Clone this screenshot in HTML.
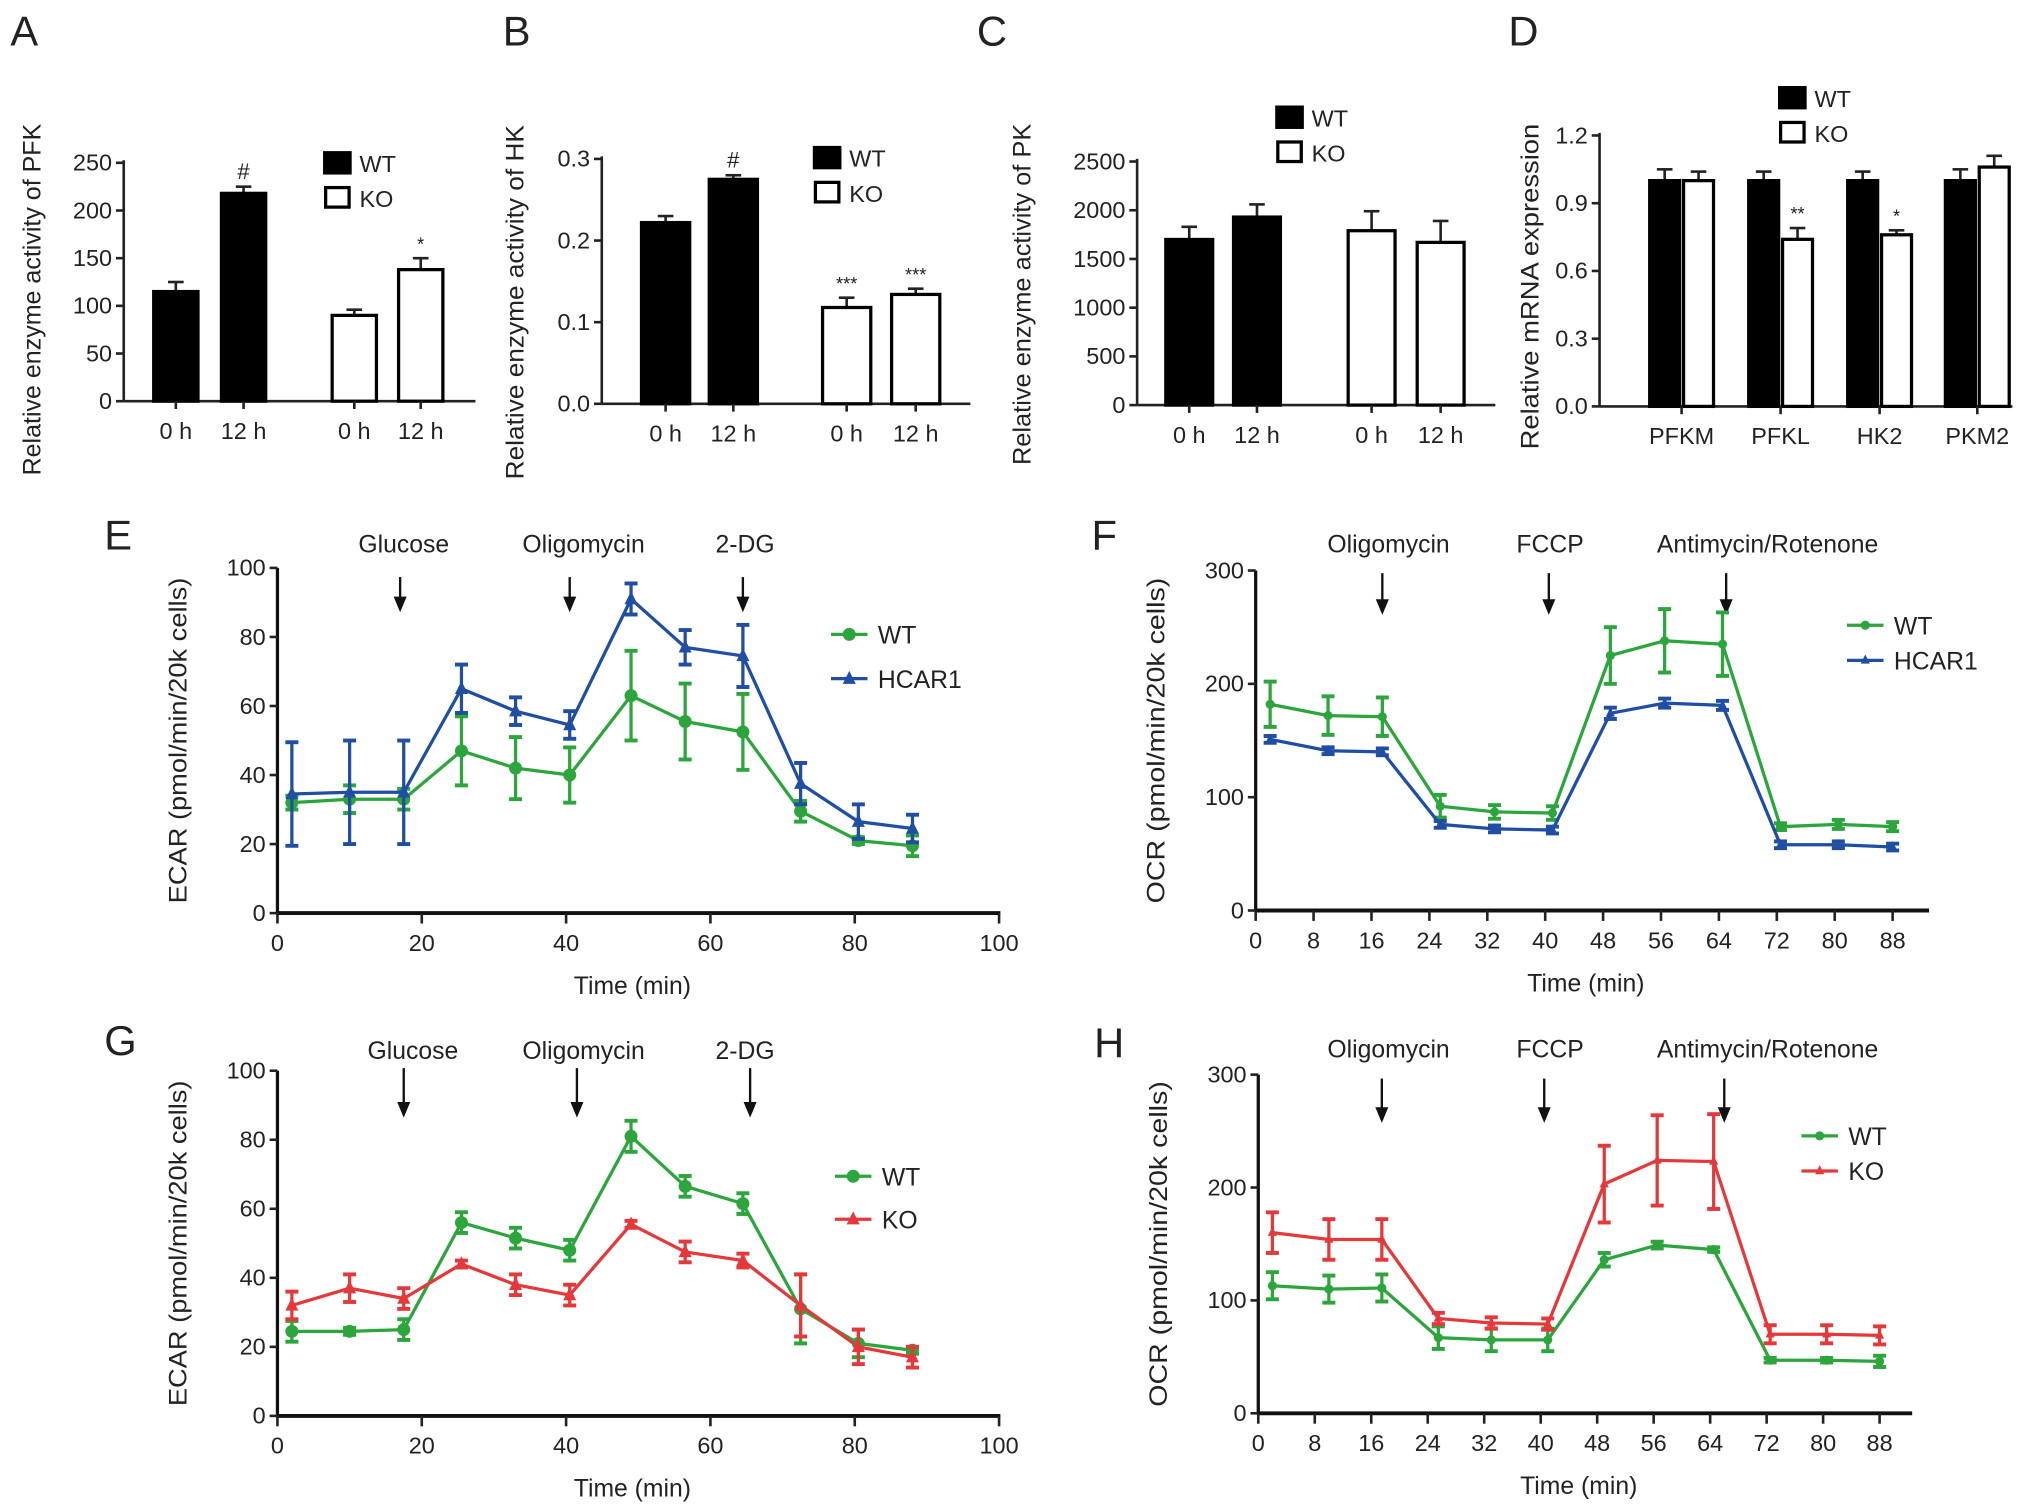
<!DOCTYPE html>
<html><head><meta charset="utf-8"><style>
html,body{margin:0;padding:0;background:#fff;}
svg{display:block;font-family:"Liberation Sans",Arial,sans-serif;}
</style></head><body>
<svg id="fig" width="2032" height="1505" viewBox="0 0 1560 1155.4" xmlns="http://www.w3.org/2000/svg"></svg>
<script>
// ---------- data ----------
const barGroupsAB = ["0 h","12 h","0 h","12 h"];
const pfkVals = [115,218,90,138];
const pfkErr = [10,7,6,12];
const hkVals = [0.222,0.275,0.118,0.134];
const hkErr = [0.008,0.005,0.012,0.007];
const pkVals = [1700,1930,1790,1670];
const pkErr = [130,130,200,220];
const genes = ["PFKM","PFKL","HK2","PKM2"];
const mrnaWT = [1.0,1.0,1.0,1.0];
const mrnaWTErr = [0.05,0.04,0.04,0.05];
const mrnaKO = [1.0,0.74,0.76,1.06];
const mrnaKOErr = [0.04,0.05,0.02,0.05];
const timesECAR = [2,10,17.5,25.5,33,40.5,49,56.5,64.5,72.5,80.5,88];
const eWT = [32,33,33,47,42,40,63,55.5,52.5,29.5,21,19.5];
const eWTErr = [2,4,3,10,9,8,13,11,11,3,1,3];
const eHC = [34.5,35,35,65,58.5,54.5,91,77,74.5,37.5,26.5,24.5];
const eHCErr = [15,15,15,7,4,4,4.5,5,9,6,5,4];
const timesOCR = [2,10,17.5,25.5,33,41,49,56.5,64.5,72.5,80.5,88];
const fWT = [182,172,171,92,87,86,225,238,235,74,76,74];
const fWTErr = [20,17,17,10,6,6,25,28,28,3,4,4];
const fHC = [151,141,140,76,72,71,174,183,181,58,58,56];
const fHCErr = [3,3,3,3,3,3,5,4,4,3,3,3];
const gWT = [24.5,24.5,25,56,51.5,48,81,66.5,61.5,31,21,19];
const gWTErr = [3,1,3,3,3,3,4.5,3,3,10,4,1];
const gKO = [32,37,34,44,38,35,55.5,47.5,45,32,20,17];
const gKOErr = [4,4,3,1,3,3,1,3,2,9,5,3];
const hWT = [113,110,111,67,65,65,136,149,145,47,47,46];
const hWTErr = [12,12,12,10,10,10,6,3,2,2,2,5];
const hKO = [160,154,154,84,80,79,203,224,223,70,70,69];
const hKOErr = [18,18,18,5,5,5,34,40,42,8,8,8];
const ecarTicks = [0,20,40,60,80,100];
const ocrTicks = [0,100,200,300];
const ocrXTicks = [0,8,16,24,32,40,48,56,64,72,80,88];

const GREEN="#2ca53c", BLUE="#1f4ea3", RED="#e5383b";
const svg=document.getElementById('fig');
const NS="http://www.w3.org/2000/svg";
function mk(tag,attrs,name,parent){
  const el=document.createElementNS(NS,tag);
  for(const k in attrs) el.setAttribute(k,attrs[k]);
  
  
  (parent||svg).appendChild(el);return el;
}
function txt(x,y,s,size,name,anchor,extra){
  const t=mk('text',Object.assign({x:x,y:y,'font-size':size,'text-anchor':anchor||'middle',fill:'#222'},extra||{}),name);
  t.textContent=s;return t;
}
function line(x1,y1,x2,y2,name,col,w){return mk('line',{x1,y1,x2,y2,stroke:col||'#222','stroke-width':w||2},name);}
function ylab(x,y,s,name,size,len){
  const ex={transform:`rotate(-90 ${x} ${y})`};
  if(len){ex.textLength=len;ex.lengthAdjust='spacingAndGlyphs';}
  txt(x,y,s,size||19,name,'middle',ex);
}

// ---------- bar panel ----------
function barPanel(o){
  const ys=v=>o.y0-(v-o.min)/(o.max-o.min)*(o.y0-o.yTop);
  line(o.ax,o.yTop-2,o.ax,o.y0,o.id+'-y-axis');
  line(o.ax,o.y0,o.axEnd,o.y0,o.id+'-x-axis');
  o.ticks.forEach((t,i)=>{const y=ys(t);line(o.ax-6,y,o.ax,y,o.id+'-y-tick');
    txt(o.ax-9,y+6,o.tickLabels[i],18,o.id+'-y-tick-label','end');});
  o.bars.forEach((b,i)=>{
    const y=ys(b.v), ye=ys(b.v+b.e);
    line(b.cx,ye,b.cx,y,o.id+'-error-bar');
    line(b.cx-6,ye,b.cx+6,ye,o.id+'-error-cap');
    mk('rect',{x:b.cx-o.bw/2,y:y,width:o.bw,height:o.y0-y,fill:b.fill?'#000':'#fff',stroke:'#000','stroke-width':2.5},o.id+'-bar-'+i);
    if(b.mark) txt(b.cx,ye-6,b.mark,b.mark=='#'?17:14,o.id+'-significance-mark');
  });
  o.xlabels.forEach(l=>{line(l.x,o.y0,l.x,o.y0+6,o.id+'-x-tick');txt(l.x,o.y0+29,l.s,18,o.id+'-x-tick-label');});
  mk('rect',{x:o.lx,y:o.ly,width:20,height:16,fill:'#000',stroke:'#000','stroke-width':2},o.id+'-legend-wt-swatch');
  txt(o.lx+27,o.ly+15,'WT',18,o.id+'-legend-wt-label','start');
  mk('rect',{x:o.lx+1,y:o.ly+27,width:18,height:15,fill:'#fff',stroke:'#000','stroke-width':2.5},o.id+'-legend-ko-swatch');
  txt(o.lx+27,o.ly+42,'KO',18,o.id+'-legend-ko-label','start');
  ylab(o.ylx,o.yly,o.ylabel,o.id+'-y-axis-title',19,o.ylen);
  txt(o.letX,o.letY,o.letter,32,o.id+'-panel-letter','start');
}
function fourBars(cxs,vals,errs,marks){return cxs.map((cx,i)=>({cx,v:vals[i],e:errs[i],fill:i<2,mark:marks[i]}));}
function fmt(list,d){return list.map(v=>v.toFixed(d));}

const aT=[0,50,100,150,200,250];
barPanel({id:'panel-a',ax:95,axEnd:365,y0:308,yTop:125,min:0,max:250,ticks:aT,tickLabels:fmt(aT,0),bw:34,
  bars:fourBars([135,187,272,323],pfkVals,pfkErr,['','#','','*']),
  xlabels:barGroupsAB.map((s,i)=>({x:[135,187,272,323][i],s})),lx:249,ly:117,
  ylabel:'Relative enzyme activity of PFK',ylx:31,yly:230,ylen:270,letter:'A',letX:8,letY:35});
const bT=[0,0.1,0.2,0.3];
const bX=[511,563,650,703];
barPanel({id:'panel-b',ax:462,axEnd:745,y0:310,yTop:122,min:0,max:0.3,ticks:bT,tickLabels:fmt(bT,1),bw:37,
  bars:fourBars(bX,hkVals,hkErr,['','#','***','***']),
  xlabels:barGroupsAB.map((s,i)=>({x:bX[i],s})),lx:625,ly:113,
  ylabel:'Relative enzyme activity of HK',ylx:402,yly:232,ylen:272,letter:'B',letX:386,letY:35});
const cT=[0,500,1000,1500,2000,2500];
barPanel({id:'panel-c',ax:873,axEnd:1148,y0:311,yTop:124,min:0,max:2500,ticks:cT,tickLabels:fmt(cT,0),bw:36,
  bars:fourBars([913,965,1053,1106],pkVals,pkErr,['','','','']),
  xlabels:barGroupsAB.map((s,i)=>({x:[913,965,1053,1106][i],s})),lx:980,ly:82,
  ylabel:'Relative enzyme activity  of PK',ylx:791,yly:226,ylen:262,letter:'C',letX:750,letY:35});
// panel D
(function(){
  const dT=[0,0.3,0.6,0.9,1.2];
  const centers=[1291,1367,1443,1518];
  const bars=[];
  genes.forEach((g,i)=>{bars.push({cx:centers[i]-13,v:mrnaWT[i],e:mrnaWTErr[i],fill:true,mark:''});
    bars.push({cx:centers[i]+13,v:mrnaKO[i],e:mrnaKOErr[i],fill:false,mark:['','**','*',''][i]});});
  barPanel({id:'panel-d',ax:1228,axEnd:1545,y0:312,yTop:104,min:0,max:1.2,ticks:dT,tickLabels:fmt(dT,1),bw:23,
    bars,xlabels:genes.map((s,i)=>({x:centers[i],s})),lx:1366,ly:67,
    ylabel:'Relative mRNA expression',ylx:1181,yly:220,ylen:250,letter:'D',letX:1158,letY:35});
})();

// ---------- line panel ----------
function linePanel(o){
  const xs=v=>o.x0+(v-o.xmin)/(o.xmax-o.xmin)*(o.x1-o.x0);
  const ys=v=>o.y0-(v-o.ymin)/(o.ymax-o.ymin)*(o.y0-o.yTop);
  line(o.x0,o.yTop,o.x0,o.y0+1,o.id+'-y-axis','#111',2.5);
  line(o.x0-1,o.y0,o.axEnd,o.y0,o.id+'-x-axis','#111',3);
  o.yticks.forEach(t=>{const y=ys(t);line(o.x0-6,y,o.x0,y,o.id+'-y-tick');txt(o.x0-9,y+6,String(t),18,o.id+'-y-tick-label','end');});
  o.xticks.forEach(t=>{const x=xs(t);line(x,o.y0,x,o.y0+8,o.id+'-x-tick');txt(x,o.y0+29,String(t),18,o.id+'-x-tick-label');});
  txt((o.x0+o.axEnd)/2-5,o.y0+62,'Time (min)',19,o.id+'-x-axis-title');
  ylab(o.x0-70,(o.y0+o.yTop)/2,o.ylabel,o.id+'-y-axis-title',19,250);
  txt(o.letX,o.letY,o.letter,32,o.id+'-panel-letter','start');
  o.arrows.forEach(a=>{const x=xs(a.t);
    line(x,o.arrY1,x,o.arrY2-10,o.id+'-arrow-shaft','#111',1.8);
    mk('path',{d:`M${x-5} ${o.arrY2-12}L${x+5} ${o.arrY2-12}L${x} ${o.arrY2}Z`,fill:'#111'},o.id+'-arrow-head');
    txt(a.lx!==undefined?a.lx:x,o.labY,a.s,19,o.id+'-injection-label');});
  o.series.forEach(s=>{
    const pts=o.times.map((t,i)=>xs(t)+','+ys(s.v[i])).join(' ');
    mk('polyline',{points:pts,fill:'none',stroke:s.col,'stroke-width':2.5},o.id+'-line-'+s.key);
    o.times.forEach((t,i)=>{const x=xs(t),y1=ys(s.v[i]-s.e[i]),y2=ys(s.v[i]+s.e[i]);
      line(x,y1,x,y2,o.id+'-error-bar-'+s.key,s.col,2.5);
      line(x-5,y1,x+5,y1,o.id+'-error-cap-'+s.key,s.col,3);
      line(x-5,y2,x+5,y2,o.id+'-error-cap-'+s.key,s.col,3);
      marker(x,ys(s.v[i]),s,o.id+'-point-'+s.key,o.msize);});
  });
  o.series.forEach((s,k)=>{const y=o.legY+k*o.legDy;
    line(o.legX,y,o.legX+28,y,o.id+'-legend-line-'+s.key,s.col,2.5);
    marker(o.legX+14,y,s,o.id+'-legend-marker-'+s.key,o.msize);
    txt(o.legX+36,y+7,s.label,19,o.id+'-legend-label-'+s.key,'start');});
}
function marker(x,y,s,name,sz){
  sz=sz||5;
  if(s.shape==='circle') mk('circle',{cx:x,cy:y,r:sz,fill:s.col},name);
  else mk('path',{d:`M${x} ${y-sz-1}L${x+sz} ${y+sz-1}L${x-sz} ${y+sz-1}Z`,fill:s.col},name);
}
linePanel({id:'panel-e',x0:213,x1:767,axEnd:768,xmin:0,xmax:100,y0:701,yTop:436,ymin:0,ymax:100,
  yticks:ecarTicks,xticks:ecarTicks,ylabel:'ECAR (pmol/min/20k cells)',letter:'E',letX:80,letY:422,
  arrows:[{t:17,s:'Glucose',lx:310},{t:40.5,s:'Oligomycin',lx:448},{t:64.5,s:'2-DG',lx:572}],arrY1:443,arrY2:470,labY:424,
  times:timesECAR,series:[{key:'wt',label:'WT',v:eWT,e:eWTErr,col:GREEN,shape:'circle'},{key:'hcar1',label:'HCAR1',v:eHC,e:eHCErr,col:BLUE,shape:'tri'}],
  legX:638,legY:487,legDy:34,msize:5});
linePanel({id:'panel-f',x0:964,x1:1453,axEnd:1481,xmin:0,xmax:88,y0:699,yTop:438,ymin:0,ymax:300,
  yticks:ocrTicks,xticks:ocrXTicks,ylabel:'OCR (pmol/min/20k cells)',letter:'F',letX:838,letY:422,
  arrows:[{t:17.5,s:'Oligomycin',lx:1066},{t:40.5,s:'FCCP',lx:1190},{t:65,s:'Antimycin/Rotenone',lx:1357}],arrY1:440,arrY2:472,labY:424,
  times:timesOCR,series:[{key:'wt',label:'WT',v:fWT,e:fWTErr,col:GREEN,shape:'circle'},{key:'hcar1',label:'HCAR1',v:fHC,e:fHCErr,col:BLUE,shape:'tri'}],
  legX:1418,legY:480,legDy:27,msize:3.5});
linePanel({id:'panel-g',x0:213,x1:767,axEnd:768,xmin:0,xmax:100,y0:1087,yTop:822,ymin:0,ymax:100,
  yticks:ecarTicks,xticks:ecarTicks,ylabel:'ECAR (pmol/min/20k cells)',letter:'G',letX:80,letY:810,
  arrows:[{t:17.5,s:'Glucose',lx:317},{t:41.5,s:'Oligomycin',lx:448},{t:65.5,s:'2-DG',lx:572}],arrY1:820,arrY2:858,labY:813,
  times:timesECAR,series:[{key:'wt',label:'WT',v:gWT,e:gWTErr,col:GREEN,shape:'circle'},{key:'ko',label:'KO',v:gKO,e:gKOErr,col:RED,shape:'tri'}],
  legX:641,legY:903,legDy:33,msize:5});
linePanel({id:'panel-h',x0:966,x1:1443,axEnd:1468,xmin:0,xmax:88,y0:1085,yTop:825,ymin:0,ymax:300,
  yticks:ocrTicks,xticks:ocrXTicks,ylabel:'OCR (pmol/min/20k cells)',letter:'H',letX:840,letY:812,
  arrows:[{t:17.5,s:'Oligomycin',lx:1066},{t:40.5,s:'FCCP',lx:1190},{t:66,s:'Antimycin/Rotenone',lx:1357}],arrY1:828,arrY2:862,labY:812,
  times:timesOCR,series:[{key:'wt',label:'WT',v:hWT,e:hWTErr,col:GREEN,shape:'circle'},{key:'ko',label:'KO',v:hKO,e:hKOErr,col:RED,shape:'tri'}],
  legX:1383,legY:872,legDy:27,msize:3.5});
</script>
</body></html>
